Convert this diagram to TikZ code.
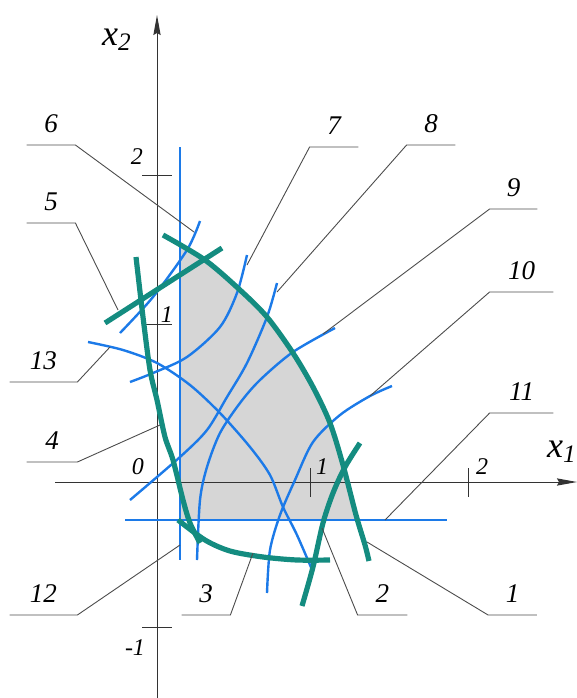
\documentclass[tikz,border=0pt]{standalone}
\usepackage{fontspec}
\setmainfont{Liberation Serif}[ItalicFont={Liberation Serif Italic}]
\usetikzlibrary{arrows.meta}

\definecolor{tealgreen}{RGB}{20,140,128}
\definecolor{lineblue}{RGB}{28,122,232}
\definecolor{regiongray}{RGB}{214,214,214}

\begin{document}
\begin{tikzpicture}[x=0.5pt,y=-0.5pt,>={Stealth[length=10pt,width=3.6pt,inset=1pt]},
  gline/.style={tealgreen,line width=2.6pt},
  bline/.style={lineblue,line width=1.2pt},
  axisline/.style={black!80,line width=0.5pt},
  leader/.style={black!70,line width=0.45pt},
  num/.style={font=\fontsize{13.5}{15}\selectfont\itshape,inner xsep=0pt,inner ysep=6pt,anchor=south},
  ticknum/.style={font=\fontsize{12}{14}\selectfont\itshape,inner sep=0pt},
  axislabel/.style={font=\fontsize{18}{20}\selectfont\itshape,inner sep=0pt}]
\useasboundingbox (0,0) rectangle (577,698);

% feasible region
\begin{scope}
\clip (180,0) rectangle (600,520);
\fill[regiongray] plot[smooth] coordinates {(163,235) (205,260) (240,290) (267,317) (293,353) (313,387) (330,423) (343,465) (356,515) (365,545) (369,561)} -- (163,600) -- cycle;
\end{scope}

% axes
\draw[axisline,->] (55,482) -- (577,482);
\draw[axisline,->] (157,698) -- (157,15);
\node[axislabel] (x1) at (562,452) {x\textsubscript{1}};
\node[axislabel] (x2) at (117,40) {x\textsubscript{2}};
% ticks
\draw[axisline] (310,468) -- (310,497);
\draw[axisline] (468,468) -- (468,497);
\draw[axisline] (142,175) -- (172,175);
\draw[axisline] (142,324) -- (172,324);
\draw[axisline] (142,627) -- (172,627);
\node[ticknum] (t0) at (138,467) {0};
\node[ticknum] (tx1) at (322,467) {1};
\node[ticknum] (tx2) at (482,467) {2};
\node[ticknum] (ty2) at (137,157) {2};
\node[ticknum] (ty1) at (167,315) {1};
\node[ticknum] (tym) at (135,648) {-1};

% blue constraint lines
\draw[bline] (180,147) -- (180,560); % 12
\draw[bline] (125,520) -- (447,520); % 11
\draw[bline] plot[smooth] coordinates {(120,333) (153,297) (187,250) (200,221)}; % 6
\draw[bline] plot[smooth] coordinates {(130,382) (153,373) (187,357) (220,327) (237,293) (247,255)}; % 7
\draw[bline] plot[smooth] coordinates {(130,500) (180,457) (207,430) (227,397) (247,363) (267,317) (277,283)}; % 8
\draw[bline] plot[smooth] coordinates {(197,560) (200,500) (207,467) (220,433) (240,403) (260,380) (293,352) (335,328)}; % 9
\draw[bline] plot[smooth] coordinates {(267,593) (270,550) (280,515) (295,480) (313,442) (340,415) (370,396) (392,386)}; % 10
\draw[bline] plot[smooth] coordinates {(88,342) (123,350) (157,363) (190,385) (220,413) (250,447) (270,475) (283,507) (297,535) (313,572)}; % 13

% green constraint lines
\draw[gline] plot[smooth] coordinates {(163,235) (205,260) (240,290) (267,317) (293,353) (313,387) (330,423) (343,465) (356,515) (365,545) (369,561)}; % 1
\draw[gline] plot[smooth] coordinates {(302,606) (313,567) (323,523) (333,493) (345,467) (360,443)}; % 2
\draw[gline] plot[smooth] coordinates {(178,520) (205,540) (230,551) (263,557) (297,560) (330,560)}; % 3
\draw[gline] plot[smooth] coordinates {(136,257) (143,317) (150,370) (157,400) (165,437) (173,460) (183,500) (190,523) (200,543)}; % 4
\draw[gline] (105,323) -- (222,248); % 5

% points on the lines
\coordinate (p1) at (367,542);
\coordinate (p2) at (322,528);
\coordinate (p3) at (253,553);
\coordinate (p4) at (160,425);
\coordinate (p5) at (118,310);
\coordinate (p6) at (194,232);
\coordinate (p7) at (247,265);
\coordinate (p8) at (277,292);
\coordinate (p9) at (323,334);
\coordinate (p10) at (370,396);
\coordinate (p11) at (385,520);
\coordinate (p12) at (180,545);
\coordinate (p13) at (110,347);

% labels on shelves
\node[num,minimum width=24pt] (l1) at (512.5,615) {1};
\node[num,minimum width=24.5pt] (l2) at (382.5,615) {2};
\node[num,minimum width=24pt] (l3) at (206,615) {3};
\node[num,minimum width=25pt] (l4) at (52,462) {4};
\node[num,minimum width=24pt] (l5) at (51,223) {5};
\node[num,minimum width=24pt] (l6) at (51,145) {6};
\node[num,minimum width=24pt] (l7) at (334,147) {7};
\node[num,minimum width=24pt] (l8) at (431,145) {8};
\node[num,minimum width=23.5pt] (l9) at (513.5,209) {9};
\node[num,minimum width=31.5pt] (l10) at (521.5,292) {10};
\node[num,minimum width=31.5pt] (l11) at (521.5,413) {11};
\node[num,minimum width=33.5pt] (l12) at (43.5,615) {12};
\node[num,minimum width=33.5pt] (l13) at (43.5,382) {13};

% leaders
\foreach \i in {1,2,7,8,9,10,11}
  \draw[leader] (p\i) -- (l\i.south west) -- (l\i.south east);
\foreach \i in {3,4,5,6,12,13}
  \draw[leader] (p\i) -- (l\i.south east) -- (l\i.south west);
\end{tikzpicture}
\end{document}
